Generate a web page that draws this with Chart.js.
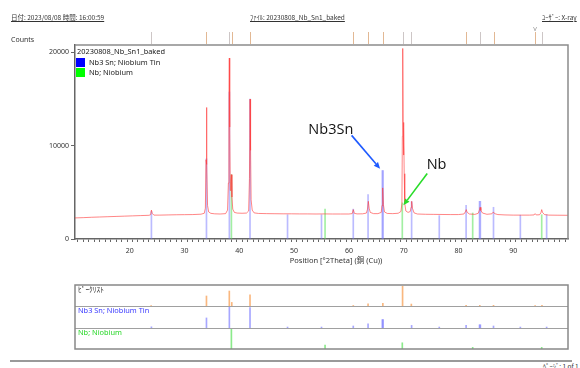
<!DOCTYPE html>
<html><head><meta charset="utf-8">
<script src="https://cdn.jsdelivr.net/npm/chart.js@4.4.1/dist/chart.umd.min.js"></script>
<style>
html,body{margin:0;padding:0;background:#fff;}
#page{position:relative;width:580px;height:368px;overflow:hidden;font-family:"Noto Sans","Noto Sans CJK JP",sans-serif;color:#222;}
.abs{position:absolute;white-space:nowrap;line-height:1;}
.hdr{font-family:"Noto Sans CJK JP","Noto Sans",sans-serif;font-size:6.5px;text-decoration:underline;color:#333;}
canvas{position:absolute;left:0;}
.sw{width:9px;height:9px;}
</style></head><body>
<div id="page">
  <canvas id="main" width="580" height="275" style="top:0"></canvas>
  <canvas id="list" width="580" height="75" style="top:278px"></canvas>
  <div class="abs hdr" style="left:11px;top:14px;">日付: 2023/08/08 時間: 16:00:59</div>
  <div class="abs hdr" style="left:250px;top:14px;">ﾌｧｲﾙ: 20230808_Nb_Sn1_baked</div>
  <div class="abs hdr" style="left:542px;top:14px;">ﾕｰｻﾞｰ: X-ray</div>
  <div class="abs" style="left:11px;top:35.5px;font-size:7px;color:#333;">Counts</div>
  <div class="abs" style="left:336px;top:257px;font-size:7.5px;color:#333;transform:translateX(-50%);font-family:'Noto Sans','Noto Sans CJK JP',sans-serif;">Position [°2Theta] (銅 (Cu))</div>
  <div id="legend"></div>
  <div class="abs" style="left:10px;top:360px;width:562px;height:2px;background:#9a9a9a;"></div>
  <div class="abs" style="left:543px;top:363px;font-size:6.5px;color:#333;font-family:'Noto Sans CJK JP',sans-serif;">ﾍﾟｰｼﾞ: 1 of 1</div>
</div>
<script>
// ---------------- data ----------------
const sampleName = '20230808_Nb_Sn1_baked';
const xrdTheta = [10.0, 11.5, 13.0, 14.5, 16.0, 17.5, 19.0, 20.5, 22.0, 23.5, 23.8, 23.95, 24.1, 24.4, 25.5, 27.0, 28.5, 30.0, 31.5, 33.0, 33.6, 33.8, 33.92, 34.0, 34.08, 34.2, 34.4, 34.8, 35.5, 36.5, 37.5, 37.85, 38.0, 38.1, 38.17, 38.25, 38.35, 38.45, 38.55, 38.65, 38.8, 39.1, 39.6, 40.5, 41.3, 41.7, 41.85, 41.95, 42.05, 42.15, 42.35, 42.7, 43.5, 45.0, 46.5, 48.0, 49.5, 51.0, 52.5, 54.0, 55.5, 57.0, 58.5, 60.0, 60.6, 60.8, 61.0, 61.5, 62.5, 63.2, 63.4, 63.55, 63.7, 63.9, 64.5, 65.3, 65.9, 66.05, 66.17, 66.3, 66.5, 67.0, 68.0, 69.0, 69.5, 69.68, 69.76, 69.83, 69.9, 69.97, 70.03, 70.1, 70.2, 70.4, 70.8, 71.2, 71.35, 71.46, 71.6, 71.9, 72.5, 74.0, 75.5, 77.0, 78.5, 80.0, 81.0, 81.25, 81.42, 81.6, 82.0, 83.0, 83.6, 83.8, 83.95, 84.1, 84.4, 85.2, 86.1, 86.38, 86.6, 87.2, 88.5, 90.0, 91.5, 93.0, 93.8, 94.0, 94.2, 94.8, 95.05, 95.2, 95.35, 95.7, 96.5, 98.0, 100.0];
const xrdCounts = [2260, 2290, 2330, 2360, 2390, 2420, 2450, 2480, 2510, 2540, 2600, 3100, 2750, 2560, 2560, 2580, 2600, 2610, 2620, 2660, 2760, 3300, 8500, 14100, 8000, 3600, 2900, 2750, 2700, 2680, 2720, 3100, 6000, 15000, 19400, 12000, 5200, 6200, 6900, 4500, 3200, 2850, 2780, 2760, 2780, 3000, 6500, 15000, 9500, 4200, 3100, 2800, 2740, 2720, 2710, 2700, 2700, 2690, 2690, 2680, 2690, 2680, 2680, 2680, 2720, 3150, 2750, 2690, 2700, 2780, 3200, 4040, 3300, 2850, 2720, 2720, 2850, 3600, 5480, 3700, 2900, 2740, 2720, 2760, 2950, 3800, 11000, 20430, 12500, 9000, 11970, 7000, 3800, 3000, 2850, 2950, 3400, 4040, 3300, 2800, 2680, 2650, 2640, 2630, 2620, 2620, 2680, 2900, 3150, 2850, 2680, 2640, 2750, 3050, 3400, 3050, 2780, 2650, 2700, 2900, 2720, 2620, 2580, 2560, 2560, 2560, 2580, 2720, 2580, 2600, 2800, 3150, 2850, 2620, 2560, 2550, 2540];

const nb3snLabel = 'Nb3 Sn; Niobium Tin';
const nb3snTheta  = [23.95, 34.0, 38.18, 41.95, 48.8, 55.0, 60.8, 63.5, 66.1, 66.25, 71.45, 76.5, 81.4, 83.85, 84.0, 86.4, 91.3, 96.1];
const nb3snCounts = [2950, 8600, 15760, 15000, 2600, 2600, 3200, 4760, 7340, 7340, 4000, 2500, 3610, 4040, 4040, 3400, 2550, 2600];
const nb3snRel    = [4, 47, 100, 97, 3, 3, 8, 19, 39, 39, 11, 3, 11, 14, 14, 8, 3, 3];

const nbLabel = 'Nb; Niobium';
const nbTheta  = [38.55, 55.65, 69.75, 82.6, 95.2];
const nbCounts = [6900, 3200, 3870, 2790, 2600];
const nbRel    = [100, 19, 30, 8, 8];

const peakListLabel = 'ﾋﾟｰｸﾘｽﾄ';
const peakTheta = [23.9, 34.0, 38.17, 38.62, 41.95, 60.8, 63.5, 66.2, 69.8, 71.4, 81.4, 83.9, 86.4, 94.0, 95.25];
const peakRel   = [4, 50, 74, 19, 55, 4, 12, 14, 97, 11, 5, 5, 5, 4, 5];

const xMin = 10, xMax = 100, yMax = 20800;
const yTickValues = [0, 10000, 20000];
const xLabelStep = 10;
const callouts = [
  {text: 'Nb3Sn', textAt: [56.7, 11750], tail: [60.5, 11110], head: [65.7, 7530]},
  {text: 'Nb', textAt: [76.0, 7990], tail: [74.3, 7020], head: [69.95, 3610]}
];

// ---------------- styles ----------------
const RED = 'rgba(255,60,60,0.62)';
const BLUE_STICK = 'rgba(120,120,255,0.5)';
const GREEN_STICK = 'rgba(100,228,100,0.6)';
const BLUE_KEY = '#0000ff', GREEN_KEY = '#00ff00';
const TAN = 'rgb(226,184,148)', GREYM = 'rgb(205,198,198)';
const MARKER_COLORS = [GREYM, TAN, GREYM, TAN, TAN, TAN, TAN, TAN, GREYM, GREYM, TAN, GREYM, TAN, TAN, GREYM];
const CALLOUT_COLORS = ['rgb(30,90,255)', 'rgb(40,220,40)'];
Chart.defaults.font.family = "'Noto Sans','Noto Sans CJK JP',sans-serif";

function arrow(ctx, x1, y1, x2, y2, color) {
  ctx.strokeStyle = color; ctx.fillStyle = color; ctx.lineWidth = 1.6;
  const ang = Math.atan2(y2 - y1, x2 - x1), L = 6.5, W = 2.8;
  const bx = x2 - L * Math.cos(ang), by = y2 - L * Math.sin(ang);
  ctx.beginPath(); ctx.moveTo(x1, y1); ctx.lineTo(bx, by); ctx.stroke();
  ctx.beginPath(); ctx.moveTo(x2, y2);
  ctx.lineTo(bx + W * Math.sin(ang), by - W * Math.cos(ang));
  ctx.lineTo(bx - W * Math.sin(ang), by + W * Math.cos(ang));
  ctx.closePath(); ctx.fill();
}

const mainDecor = {
  id: 'mainDecor',
  afterDatasetsDraw(chart) {
    const {ctx, chartArea: a, scales: {x, y}} = chart;
    ctx.save();
    ctx.strokeStyle = '#8c8c8c'; ctx.lineWidth = 1.5;
    ctx.beginPath(); ctx.moveTo(a.left, a.top); ctx.lineTo(a.right, a.top); ctx.lineTo(a.right, a.bottom); ctx.stroke();
    ctx.lineWidth = 1;
    peakTheta.forEach((t, i) => {
      const px = Math.round(x.getPixelForValue(t)) + 0.5;
      ctx.strokeStyle = MARKER_COLORS[i];
      ctx.beginPath(); ctx.moveTo(px, a.top - 13); ctx.lineTo(px, a.top - 1); ctx.stroke();
    });
    ctx.fillStyle = '#888'; ctx.font = "6px 'Noto Sans'"; ctx.textAlign = 'center'; ctx.textBaseline = 'middle';
    ctx.fillText('V', x.getPixelForValue(94.0), a.top - 16);
    callouts.forEach((c, i) => {
      arrow(ctx, x.getPixelForValue(c.tail[0]), y.getPixelForValue(c.tail[1]),
                 x.getPixelForValue(c.head[0]), y.getPixelForValue(c.head[1]), CALLOUT_COLORS[i]);
      ctx.fillStyle = '#111'; ctx.font = "14.5px 'Open Sans'"; ctx.textAlign = 'center'; ctx.textBaseline = 'middle';
      ctx.fillText(c.text, x.getPixelForValue(c.textAt[0]), y.getPixelForValue(c.textAt[1]));
    });
    ctx.restore();
  }
};

const mainChart = new Chart(document.getElementById('main'), {
  type: 'line',
  data: {datasets: [
    {type: 'line', label: sampleName, data: xrdTheta.map((t, i) => ({x: t, y: xrdCounts[i]})),
     borderColor: RED, borderWidth: 1, pointRadius: 0, tension: 0, order: 0},
    {type: 'bar', label: nb3snLabel, data: nb3snTheta.map((t, i) => ({x: t, y: nb3snCounts[i]})),
     backgroundColor: BLUE_STICK, barThickness: 1, grouped: false, order: 1},
    {type: 'bar', label: nbLabel, data: nbTheta.map((t, i) => ({x: t, y: nbCounts[i]})),
     backgroundColor: GREEN_STICK, barThickness: 1, grouped: false, order: 2}
  ]},
  options: {
    responsive: false, animation: false, events: [],
    layout: {padding: {top: 45, right: 12, left: 0, bottom: 0}},
    plugins: {legend: {display: false}, tooltip: {enabled: false}},
    scales: {
      x: {type: 'linear', min: xMin, max: xMax, offset: false,
        ticks: {stepSize: 1, autoSkip: false, maxRotation: 0, minRotation: 0, padding: 5, color: '#333', font: {size: 7},
          callback: v => (v % xLabelStep === 0 && v > xMin && v < xMax) ? String(v) : ''},
        grid: {drawOnChartArea: false, drawTicks: true, tickLength: 3, color: '#666'},
        border: {color: '#666', width: 1.5},
        afterFit: s => { s.height = 36; }},
      y: {type: 'linear', min: 0, max: yMax,
        afterBuildTicks: s => { s.ticks = yTickValues.map(v => ({value: v})); },
        ticks: {padding: 2, color: '#333', font: {size: 7}, callback: v => String(v)},
        grid: {drawOnChartArea: false, tickLength: 4, color: '#666'},
        border: {color: '#666', width: 1.5},
        afterFit: s => { s.width = 75; }}
    }
  },
  plugins: [mainDecor]
});

// legend (HTML, from dataset labels)
(function () {
  const lg = document.getElementById('legend');
  const ds = mainChart.data.datasets;
  const keys = [BLUE_KEY, GREEN_KEY];
  let html = `<div class="abs" style="left:77px;top:48px;font-size:7.4px;color:#222;">${ds[0].label}</div>`;
  [ds[1], ds[2]].forEach((d, i) => {
    const top = 57.5 + i * 10.7;
    html += `<div class="abs sw" style="left:76px;top:${top}px;background:${keys[i]}"></div>`;
    html += `<div class="abs" style="left:89px;top:${top + 1}px;font-size:7.4px;color:#222;">${d.label}</div>`;
  });
  lg.innerHTML = html;
})();

// ---------------- peak list panel ----------------
const rowsTopDown = [
  {label: peakListLabel, theta: peakTheta, rel: peakRel, base: 2, color: 'rgba(248,165,95,0.8)', text: '#333'},
  {label: nb3snLabel, theta: nb3snTheta, rel: nb3snRel, base: 1, color: 'rgba(120,120,255,0.65)', text: 'rgb(60,60,255)'},
  {label: nbLabel, theta: nbTheta, rel: nbRel, base: 0, color: 'rgba(90,225,90,0.7)', text: 'rgb(40,215,40)'}
];

const listDecor = {
  id: 'listDecor',
  afterDatasetsDraw(chart) {
    const {ctx, chartArea: a, scales: {y}} = chart;
    ctx.save();
    ctx.strokeStyle = '#a0a0a0'; ctx.lineWidth = 1;
    [1, 2].forEach(v => { const py = Math.round(y.getPixelForValue(v)) + 0.5;
      ctx.beginPath(); ctx.moveTo(a.left, py); ctx.lineTo(a.right, py); ctx.stroke(); });
    ctx.strokeStyle = '#888'; ctx.lineWidth = 1.5;
    ctx.strokeRect(a.left, a.top, a.right - a.left, a.bottom - a.top);
    ctx.textAlign = 'left'; ctx.textBaseline = 'middle';
    rowsTopDown.forEach(r => {
      ctx.fillStyle = r.text;
      ctx.font = "7.4px 'Noto Sans','Noto Sans CJK JP'";
      ctx.fillText(r.label, a.left + 3, y.getPixelForValue(r.base + 1) + 5);
    });
    ctx.restore();
  }
};

new Chart(document.getElementById('list'), {
  type: 'bar',
  data: {datasets: rowsTopDown.map(r => ({
    label: r.label,
    data: r.theta.map((t, i) => ({x: t, y: [r.base, r.base + r.rel[i] / 100 * 0.97]})),
    backgroundColor: r.color, barThickness: 1, grouped: false
  }))},
  options: {
    responsive: false, animation: false, events: [],
    layout: {padding: {top: 7, bottom: 4, left: 75, right: 12}},
    plugins: {legend: {display: false}, tooltip: {enabled: false}},
    scales: {
      x: {type: 'linear', min: xMin, max: xMax, offset: false, display: false},
      y: {type: 'linear', min: 0, max: 3, display: false}
    }
  },
  plugins: [listDecor]
});
</script>
</body></html>
